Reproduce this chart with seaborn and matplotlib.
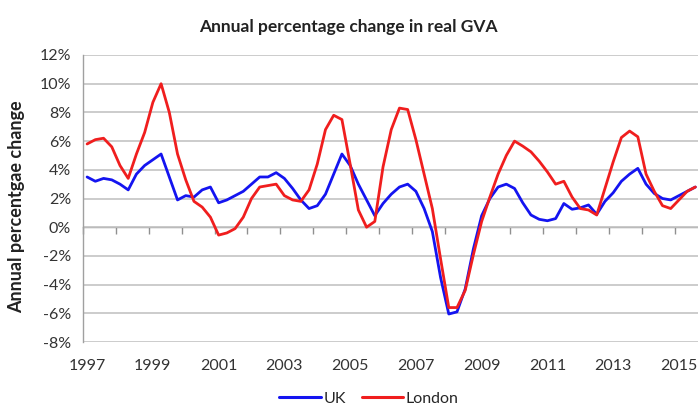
import numpy as np
import pandas as pd
import matplotlib
matplotlib.use("Agg")
import matplotlib.pyplot as plt
import seaborn as sns
from matplotlib.lines import Line2D

# ---- data (quarterly, 1997 Q1 .. 2015 Q3) ----
start_year = 1997
uk = [3.5, 3.2, 3.4, 3.3, 3.0, 2.6, 3.7, 4.3, 4.7, 5.1,
      3.5, 1.9, 2.2, 2.1, 2.6, 2.8, 1.7, 1.9, 2.2, 2.5,
      3.0, 3.5, 3.5, 3.8, 3.4, 2.7, 1.9, 1.3, 1.5, 2.3,
      3.7, 5.1, 4.3, 3.0, 1.9, 0.8, 1.65, 2.3, 2.8, 3.0,
      2.5, 1.3, -0.3, -3.5, -6.05, -5.9, -4.3, -1.5, 0.8, 2.0,
      2.8, 3.0, 2.7, 1.7, 0.85, 0.55, 0.45, 0.6, 1.65, 1.25,
      1.35, 1.55, 0.9, 1.8, 2.4, 3.2, 3.7, 4.1, 3.0, 2.35,
      2.0, 1.9, 2.2, 2.5, 2.8]
london = [5.8, 6.1, 6.2, 5.6, 4.3, 3.4, 5.1, 6.6, 8.7, 10.0,
          8.0, 5.1, 3.3, 1.8, 1.4, 0.7, -0.55, -0.4, -0.1, 0.7,
          2.0, 2.8, 2.9, 3.0, 2.2, 1.9, 1.8, 2.6, 4.4, 6.8,
          7.8, 7.5, 4.4, 1.2, 0.0, 0.4, 4.2, 6.8, 8.3, 8.2,
          6.1, 3.7, 1.3, -2.2, -5.6, -5.6, -4.4, -1.9, 0.4, 2.1,
          3.7, 5.0, 6.0, 5.65, 5.25, 4.6, 3.85, 3.0, 3.2, 2.1,
          1.3, 1.2, 0.85, 2.7, 4.55, 6.25, 6.7, 6.3, 3.7, 2.5,
          1.5, 1.3, 1.9, 2.5, 2.8]
series_names = ["UK", "London"]
year_labels = list(range(1997, 2016, 2))
y_ticks = list(range(-8, 13, 2))

n = len(uk)
t = [start_year + i / 4 for i in range(n)]
df = pd.concat([
    pd.DataFrame({"t": t, "value": uk, "series": "UK"}),
    pd.DataFrame({"t": t, "value": london, "series": "London"}),
])

sns.set_style("white")
plt.rcParams["font.family"] = ["Lato", "DejaVu Sans"]

colors = {"UK": "#1414f0", "London": "#f01e1e"}
fig = plt.figure(figsize=(6.98, 4.09), dpi=100)
ax = fig.add_axes([83 / 698, 1 - 342 / 409, 1 - 83 / 698, (342 - 55) / 409])

sns.lineplot(data=df, x="t", y="value", hue="series", palette=colors,
             hue_order=series_names, linewidth=2.0, ax=ax, legend=False)

ax.set_xlim(start_year - 0.125, 2015.58)
ax.set_ylim(-8, 12)
ax.set_yticks(y_ticks)
ax.set_yticklabels([f"{v}%" for v in y_ticks])
ax.set_xticks(year_labels)
ax.set_xticklabels([str(y) for y in year_labels])
ax.tick_params(axis="x", length=0, pad=12, labelsize=11.5, labelcolor="#333333")
ax.tick_params(axis="y", length=7, width=1, color="#a0a0a0", pad=5,
               labelsize=11.5, labelcolor="#333333", direction="inout")
ax.grid(axis="y", color="#c4c4c4", linewidth=1.2)
ax.grid(axis="x", visible=False)
for s in ["top", "right", "bottom"]:
    ax.spines[s].set_visible(False)
ax.spines["left"].set_color("#a0a0a0")
ax.spines["left"].set_linewidth(1.0)
ax.set_xlabel("")
ax.set_ylabel("Annual percentgae change", fontsize=13, fontweight="bold",
              color="#222222")
ax.yaxis.set_label_coords((25 - 83) / 615, 0.47)

# zero axis with annual tick marks
sec = ax.secondary_xaxis(8 / 20)
sec.set_xticks([y - 0.125 for y in range(1997, 2016)])
sec.set_xticklabels([])
sec.tick_params(length=5, width=1, color="#909090", direction="out")
sec.spines["bottom"].set_color("#909090")
sec.spines["bottom"].set_linewidth(1.0)
sec.spines["top"].set_visible(False)

fig.suptitle("Annual percentage change in real GVA", x=348 / 698, y=1 - 27 / 409,
             va="center", fontsize=12.5, fontweight="bold", color="#222222")

handles = [Line2D([], [], color=colors[s], linewidth=2.2) for s in series_names]
fig.legend(handles, series_names, loc="center", bbox_to_anchor=(369 / 698, 0.025),
           ncol=2, frameon=False, fontsize=11.5, handlelength=2.6,
           handletextpad=0.15, columnspacing=1.0)

fig.savefig("out.png", dpi=100)
